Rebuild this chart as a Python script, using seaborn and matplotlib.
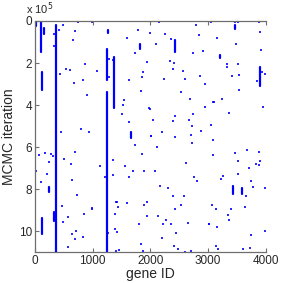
import pandas as pd
import seaborn as sns
import matplotlib
matplotlib.use("Agg")
import matplotlib.pyplot as plt

# ---------------- data (iterations in units of 1e5) ----------------
# longer runs: gene, start, end
seg_gene = [23, 100, 150, 360, 116, 1247, 1247, 1368, 2435, 3896, 116, 330, 238,
            3432, 3594, 1826, 1670, 3217, 3478, 1264]
seg_start = [0.0, 0.03, 0.35, 0.19, 2.43, 1.34, 3.40, 1.72, 0.89, 2.18, 9.36, 9.08, 7.91,
             7.88, 7.94, 1.10, 5.28, 1.61, 0.18, 0.43]
seg_end = [0.25, 1.47, 0.60, 11.0, 3.30, 2.81, 11.0, 4.14, 1.48, 3.11, 10.14, 9.52, 8.12,
           8.23, 8.26, 1.33, 5.55, 1.77, 0.38, 0.59]

# short blips: gene, iteration
dot_gene = [742, 997, 487, 412, 336, 701, 667, 336, 876, 540, 609, 429, 829, 673, 904, 800, 939, 446,
            1594, 1785, 2000, 1734, 1942, 1356, 1281, 1078, 1878, 1861, 1281, 1629, 1832, 1548, 1531,
            1983, 1513, 1629,
            2145, 2795, 2249, 2841, 2099, 2360, 2743, 2917, 2343, 2412, 2400, 2569, 2238, 2609, 2870,
            2957, 2539, 2684, 2951, 1988, 2748, 2435, 2052, 2388, 2678, 2730, 2209, 2881, 2701, 2017,
            3061, 3466, 3525, 3890, 3908, 3165, 3490, 3930, 3339, 3530, 3333, 3936, 3990, 3420, 3536,
            3855, 3548, 3246, 3090, 3113, 3960, 3368, 3061,
            70, 174, 284, 313, 690, 504, 626, 238, 17, 203, 104, 643, 736, 470, 997, 858, 574, 487,
            707, 638, 829, 701, 580,
            1734, 1861, 1345, 1130, 1559, 1704, 1884, 1345, 1223, 1635, 986, 1409, 1431, 1443, 1594,
            1942, 1896, 1386, 1948, 1803, 1275, 1386, 1420, 1843, 1866, 1409, 1449,
            2012, 2435, 2719, 2122, 2614, 2087, 2760, 2817, 2162, 2313, 2388, 2580, 2534, 2435, 2139,
            2278, 2226, 2360, 2661, 3020, 2452, 2203, 2412, 2481, 2603, 2713,
            3090, 3090, 3478, 3681, 3884, 3530, 3896, 3838, 3884, 3710, 3525, 3264, 3229, 3751, 3983,
            3786, 3670, 3078, 3143, 3646, 3397, 3357, 3374, 3026, 3159, 3745, 3990, 3143, 3171, 3617,
            3739]
dot_iter = [0.03, 0.03, 0.18, 0.41, 0.60, 0.50, 0.90, 1.20, 2.07, 2.30, 2.35, 2.50, 2.80, 2.93, 3.54,
            5.12, 5.30, 5.30,
            0.81, 0.43, 0.59, 1.53, 1.93, 1.88, 1.80, 2.36, 2.44, 2.69, 2.69, 2.81, 3.32, 3.78, 3.99,
            4.16, 4.45, 4.82,
            0.05, 0.18, 0.60, 0.68, 1.10, 0.86, 1.50, 1.44, 1.91, 2.00, 2.28, 2.36, 2.76, 2.74, 2.62,
            3.01, 3.40, 3.73, 4.11, 4.18, 4.43, 4.51, 4.72, 4.74, 4.72, 4.99, 5.28, 5.22, 5.41, 5.47,
            0.06, 0.05, 0.05, 0.06, 0.53, 0.83, 1.09, 1.36, 2.03, 2.04, 2.17, 2.41, 2.50, 2.60, 2.55,
            2.86, 3.29, 3.73, 3.84, 3.84, 4.10, 4.37, 4.93,
            6.36, 6.28, 6.32, 6.44, 6.24, 6.57, 6.81, 6.73, 7.16, 7.29, 7.69, 7.59, 8.28, 8.80, 8.93,
            9.19, 9.35, 9.55, 9.98, 10.16, 10.27, 10.38, 10.78,
            5.92, 6.32, 6.60, 6.89, 6.89, 7.13, 7.13, 7.32, 7.42, 7.42, 8.91, 8.63, 8.63, 8.87, 8.66,
            8.60, 8.76, 9.19, 9.27, 9.68, 10.10, 9.92, 10.03, 10.61, 10.94, 10.95, 10.90,
            5.49, 5.53, 5.79, 6.01, 6.76, 7.14, 7.45, 7.61, 7.88, 7.96, 8.31, 8.33, 8.76, 8.95, 9.27,
            9.47, 9.67, 9.67, 9.62, 9.68, 10.10, 10.35, 10.72, 10.86, 10.98, 10.95,
            5.65, 6.36, 6.28, 6.16, 6.22, 6.68, 6.68, 6.83, 6.85, 7.02, 7.29, 7.40, 7.50, 7.64, 7.93,
            7.90, 8.31, 8.77, 8.96, 8.85, 8.96, 9.23, 9.47, 9.65, 9.82, 10.19, 10.00, 10.70, 10.86,
            10.85, 10.83]

x_ticks = [0, 1000, 2000, 3000, 4000]
y_ticks = [0, 2, 4, 6, 8, 10]

# ---------------- build tables ----------------
seg_rows = []
for i, (g, a, b) in enumerate(zip(seg_gene, seg_start, seg_end)):
    seg_rows.append({"gene": g, "iter": a, "seg": i})
    seg_rows.append({"gene": g, "iter": b, "seg": i})
segments = pd.DataFrame(seg_rows)
dots = pd.DataFrame({"gene": dot_gene, "iter": dot_iter})

# ---------------- plot ----------------
sns.set_style("white")
plt.rcParams["font.family"] = ["Liberation Sans", "DejaVu Sans"]

fig = plt.figure(figsize=(2.83, 2.83), dpi=100)
ax = fig.add_axes([0.1237, 0.1095, 0.8145, 0.8163])

sns.lineplot(data=segments, x="gene", y="iter", units="seg", estimator=None, sort=False,
             color="#0000ff", linewidth=1.6, ax=ax, legend=False)
sns.scatterplot(data=dots, x="gene", y="iter", marker="|", s=3, linewidth=1.2,
                color="#0000ff", ax=ax, legend=False)

ax.set_xlim(0, 4000)
ax.set_ylim(11.0, 0)
ax.set_xticks(x_ticks)
ax.set_yticks(y_ticks)
ax.set_xticklabels([str(t) for t in x_ticks])
ax.set_yticklabels([str(t) for t in y_ticks])

ax.set_xlabel("gene ID", fontsize=10, labelpad=0)
ax.set_ylabel("MCMC iteration", fontsize=10, labelpad=2)

# matlab-ish frame: left, bottom, top
for side in ["left", "bottom", "top"]:
    ax.spines[side].set_visible(True)
    ax.spines[side].set_color("#6e6e6e")
    ax.spines[side].set_linewidth(0.9)
ax.spines["right"].set_visible(False)
ax.tick_params(axis="both", direction="in", length=3, width=0.8, color="#6e6e6e",
               labelsize=8.5, pad=2, top=True, left=True, bottom=True, right=False)

fig.text(26 / 283, 1 - 13.5 / 283, r"x 10$^{5}$", fontsize=8, va="baseline", ha="left")

plt.savefig("out.png", dpi=100)
